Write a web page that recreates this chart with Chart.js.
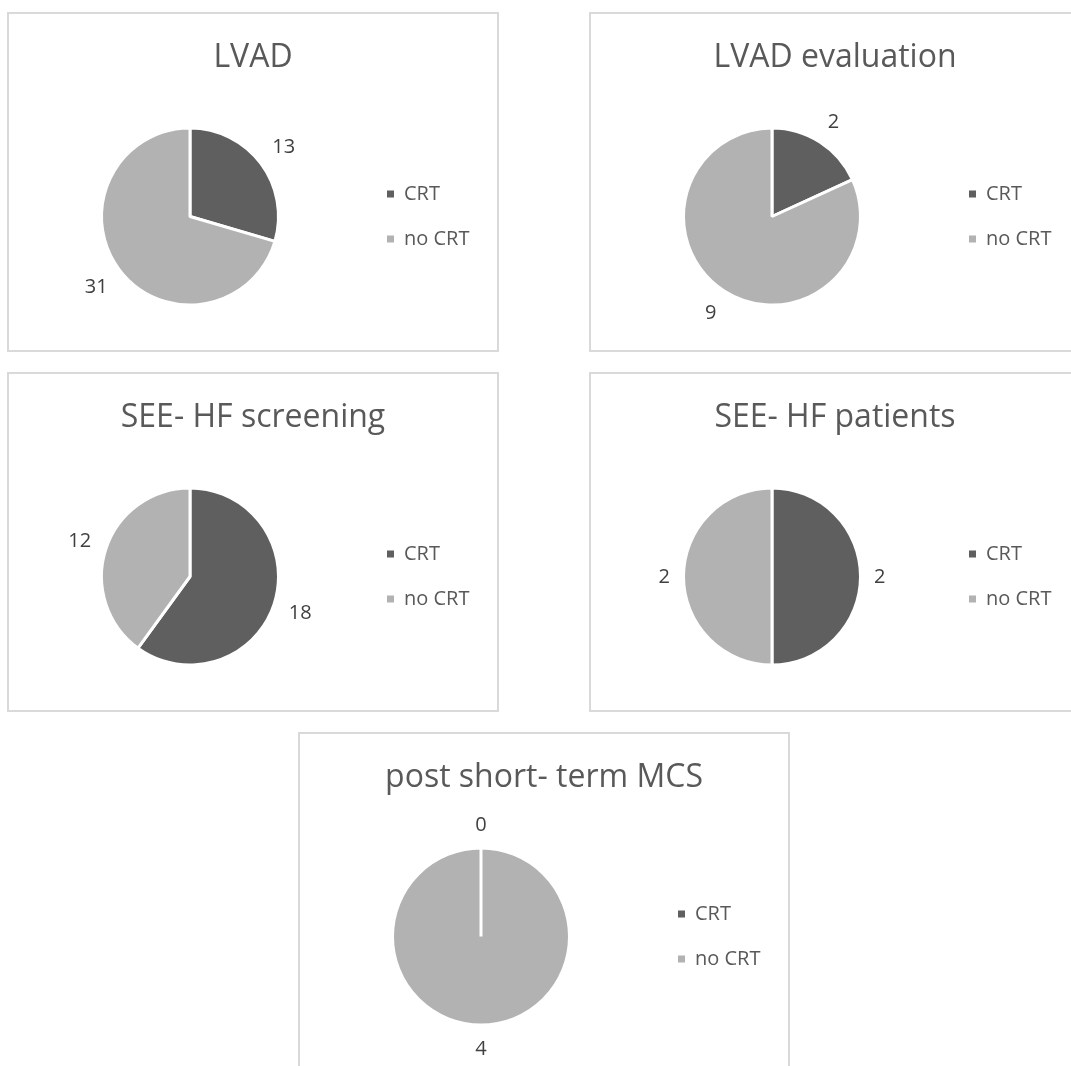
<!DOCTYPE html>
<html>
<head>
<meta charset="utf-8">
<script src="https://cdn.jsdelivr.net/npm/chart.js@4/dist/chart.umd.min.js"></script>
<style>
  html, body { margin: 0; padding: 0; background: #ffffff; }
  body { width: 1071px; height: 1066px; position: relative; overflow: hidden; }
  .panel {
    position: absolute;
    width: 492px; height: 340px;
    box-sizing: border-box;
    border: 2px solid #d9d9d9;
    background: #ffffff;
  }
  .panel canvas { position: absolute; left: 0; top: 0; }
  .panel .title {
    position: absolute; left: 0; top: 23px; width: 488px;
    text-align: center;
    font-family: 'Open Sans', sans-serif;
    font-size: 32px; line-height: 36px;
    color: #595959;
    white-space: nowrap;
  }
</style>
</head>
<body>
<script>
// Patient groups: CRT vs no CRT counts per cohort
const categories = ['CRT', 'no CRT'];
const chartTitles = ['LVAD', 'LVAD evaluation', 'SEE- HF screening', 'SEE- HF patients', 'post short- term MCS'];
const crtCounts = [13, 2, 18, 2, 0];
const noCrtCounts = [31, 9, 12, 2, 4];

const sliceColors = ['#5f5f5f', '#b2b2b2'];
const panelSpots = [[7, 12], [589, 12], [7, 372], [589, 372], [298, 732]];

const FONT = "'Open Sans', sans-serif";
const CANVAS_W = 488, CANVAS_H = 336;
const LEGEND_FONT = 20, LEGEND_BOX = 7, LEGEND_PAD = 25;
const LABEL_FONT = 20;

// Width the legend needs, so the pie and legend column land where intended
const probe = document.createElement('canvas').getContext('2d');
probe.font = LEGEND_FONT + "px " + FONT;
const widestLabel = Math.max(...categories.map(c => probe.measureText(c).width));
const legendWidth = LEGEND_PAD + LEGEND_BOX + LEGEND_FONT / 2 + widestLabel + 10;
const plotLeft = 9, plotRight = 353;
const padRight = CANVAS_W - plotRight - legendWidth;

// Value labels placed just outside each slice, along its middle angle
const valueLabels = {
  id: 'valueLabels',
  afterDatasetsDraw(chart) {
    const ctx = chart.ctx;
    const meta = chart.getDatasetMeta(0);
    const values = chart.data.datasets[0].data;
    const fs = LABEL_FONT;
    ctx.save();
    ctx.font = fs + 'px ' + FONT;
    ctx.fillStyle = '#404040';
    ctx.textAlign = 'center';
    ctx.textBaseline = 'middle';
    meta.data.forEach((arc, i) => {
      const p = arc.getProps(['x', 'y', 'startAngle', 'endAngle', 'outerRadius'], true);
      const mid = (p.startAngle + p.endAngle) / 2;
      const text = String(values[i]);
      const w = ctx.measureText(text).width;
      const c = Math.cos(mid), s = Math.sin(mid);
      const ext = (Math.abs(c) * w + Math.abs(s) * fs) / 2;
      const d = p.outerRadius - 1.5 + 15 + ext;
      ctx.fillText(text, p.x + c * d, p.y + s * d + 1);
    });
    ctx.restore();
  }
};

chartTitles.forEach((title, k) => {
  const panel = document.createElement('div');
  panel.className = 'panel';
  panel.style.left = panelSpots[k][0] + 'px';
  panel.style.top = panelSpots[k][1] + 'px';
  const canvas = document.createElement('canvas');
  canvas.width = CANVAS_W;
  canvas.height = CANVAS_H;
  panel.appendChild(canvas);
  const head = document.createElement('div');
  head.className = 'title';
  head.textContent = title;
  panel.appendChild(head);
  document.body.appendChild(panel);

  new Chart(canvas, {
    type: 'pie',
    data: {
      labels: categories,
      datasets: [{
        data: [crtCounts[k], noCrtCounts[k]],
        backgroundColor: sliceColors,
        borderColor: '#ffffff',
        borderWidth: 3,
        radius: 88.5,
        hoverOffset: 0
      }]
    },
    options: {
      responsive: false,
      animation: false,
      events: [],
      layout: { padding: { left: plotLeft, right: padRight, top: 69, bottom: 0 } },
      plugins: {
        title: { display: false },
        tooltip: { enabled: false },
        legend: {
          display: true,
          position: 'right',
          align: 'center',
          fullSize: false,
          labels: {
            boxWidth: LEGEND_BOX,
            boxHeight: LEGEND_BOX,
            padding: LEGEND_PAD,
            color: '#595959',
            font: { family: FONT, size: LEGEND_FONT },
            generateLabels(chart) {
              const base = Chart.overrides.pie.plugins.legend.labels.generateLabels(chart);
              return base.map(item => Object.assign(item, { lineWidth: 0 }));
            }
          }
        }
      }
    },
    plugins: [valueLabels]
  });
});
</script>
</body>
</html>
